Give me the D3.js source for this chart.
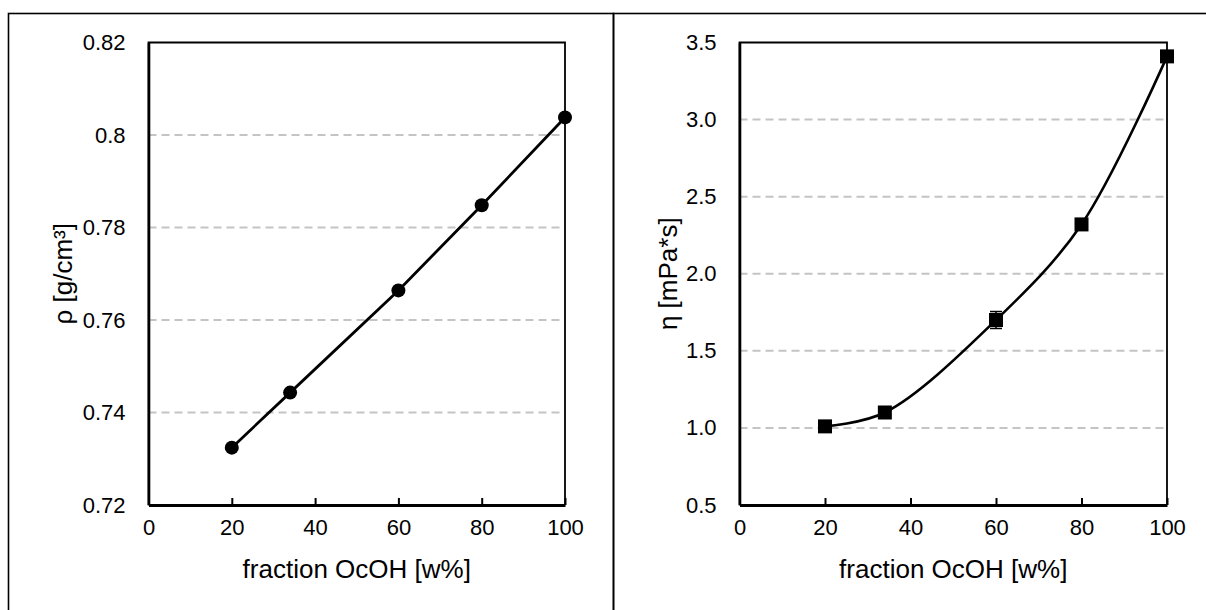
<!DOCTYPE html>
<html>
<head>
<meta charset="utf-8">
<script src="https://cdn.jsdelivr.net/npm/d3@7"></script>
<style>
  html, body { margin: 0; padding: 0; background: #fff; }
  svg { display: block; font-family: "Liberation Sans", Arial, sans-serif; }
</style>
</head>
<body>
<svg id="chart" width="1206" height="610"></svg>
<script>
// Composition fraction of OcOH (weight %)
const fraction = [20, 34, 60, 80, 100];
// Density ρ in g/cm³
const density = [0.7324, 0.7443, 0.7664, 0.7848, 0.8038];
// Dynamic viscosity η in mPa*s
const viscosity = [1.01, 1.10, 1.70, 2.32, 3.41];
// Standard deviation of viscosity measurement
const viscosityErr = [0.01, 0.01, 0.055, 0.02, 0.02];

const xTicks = [0, 20, 40, 60, 80, 100];
const densityTicks = [0.72, 0.74, 0.76, 0.78, 0.80, 0.82];
const viscosityTicks = [0.5, 1.0, 1.5, 2.0, 2.5, 3.0, 3.5];

const xTitle = "fraction OcOH [w%]";
const densityTitle = "ρ [g/cm³]";
const viscosityTitle = "η  [mPa*s]";

const svg = d3.select("#chart");

// outer panel frames
const frame = svg.append("g").attr("fill", "none").attr("stroke", "#000").attr("stroke-width", 1.6);
frame.append("rect").attr("x", 8.5).attr("y", 13.5).attr("width", 605).attr("height", 620);
frame.append("rect").attr("x", 613.5).attr("y", 13.5).attr("width", 620).attr("height", 620);

function panel(opt) {
  const x = d3.scaleLinear().domain([0, 100]).range([opt.left, opt.right]);
  const y = d3.scaleLinear().domain(opt.yDomain).range([505, 42.5]);
  const g = svg.append("g");

  // dashed horizontal gridlines (inner ticks only)
  g.append("g").selectAll("line")
    .data(opt.yTicks.slice(1, -1))
    .join("line")
    .attr("x1", x(0)).attr("x2", x(100))
    .attr("y1", d => y(d)).attr("y2", d => y(d))
    .attr("stroke", "#c4c4c4").attr("stroke-width", 2)
    .attr("stroke-dasharray", "8,5");

  // plot-area border
  g.append("path")
    .attr("d", `M${x(0)},${y(opt.yDomain[0])}V${y(opt.yDomain[1])}H${x(100)}V${y(opt.yDomain[0])}`)
    .attr("fill", "none").attr("stroke", "#000").attr("stroke-width", 1.8);

  // x axis with inward ticks
  const xAxis = d3.axisBottom(x).tickValues(xTicks).tickSizeInner(-7).tickSizeOuter(0).tickPadding(14);
  const xg = g.append("g").attr("transform", `translate(0,${y(opt.yDomain[0])})`).call(xAxis);
  xg.select(".domain").attr("stroke", "#000").attr("stroke-width", 2.8);
  xg.selectAll(".tick line").attr("stroke", "#000").attr("stroke-width", 2);
  xg.selectAll(".tick text").attr("font-size", 22).attr("fill", "#000").attr("dy", "0.71em");

  // y axis labels
  const yAxis = d3.axisLeft(y).tickValues(opt.yTicks).tickSize(0).tickPadding(23).tickFormat(opt.fmt);
  const yg = g.append("g").attr("transform", `translate(${x(0)},0)`).call(yAxis);
  yg.select(".domain").attr("stroke", "#000").attr("stroke-width", 2.6);
  yg.selectAll(".tick text").attr("font-size", 22).attr("fill", "#000");

  // axis titles
  g.append("text")
    .attr("x", (x(0) + x(100)) / 2).attr("y", 578)
    .attr("text-anchor", "middle").attr("font-size", 26).attr("fill", "#000")
    .text(xTitle);
  g.append("text")
    .attr("transform", `translate(${opt.titleX},${(y(opt.yDomain[0]) + y(opt.yDomain[1])) / 2}) rotate(-90)`)
    .attr("text-anchor", "middle").attr("font-size", 26).attr("fill", "#000")
    .text(opt.title);

  return { x, y, g };
}

// ---- left: density ----
const L = panel({
  left: 148.5, right: 565,
  yDomain: [0.72, 0.82], yTicks: densityTicks,
  fmt: d => String(+d.toFixed(2)),
  title: densityTitle, titleX: 72
});
const densPts = fraction.map((f, i) => [f, density[i]]);
L.g.append("path")
  .attr("d", d3.line().x(d => L.x(d[0])).y(d => L.y(d[1]))(densPts))
  .attr("fill", "none").attr("stroke", "#000").attr("stroke-width", 2.8);
L.g.append("g").selectAll("circle")
  .data(densPts).join("circle")
  .attr("cx", d => L.x(d[0])).attr("cy", d => L.y(d[1]))
  .attr("r", 7).attr("fill", "#000");

// ---- right: viscosity ----
const R = panel({
  left: 739.5, right: 1167,
  yDomain: [0.5, 3.5], yTicks: viscosityTicks,
  fmt: d3.format(".1f"),
  title: viscosityTitle, titleX: 677
});
const viscPts = fraction.map((f, i) => [f, viscosity[i], viscosityErr[i]]);
R.g.append("path")
  .attr("d", d3.line().curve(d3.curveCatmullRom.alpha(0.5)).x(d => R.x(d[0])).y(d => R.y(d[1]))(viscPts))
  .attr("fill", "none").attr("stroke", "#000").attr("stroke-width", 2.6);
// error bars
const eb = R.g.append("g").attr("stroke", "#000").attr("stroke-width", 1.5);
viscPts.forEach(d => {
  const cx = R.x(d[0]);
  eb.append("line").attr("x1", cx).attr("x2", cx).attr("y1", R.y(d[1] - d[2])).attr("y2", R.y(d[1] + d[2]));
  eb.append("line").attr("x1", cx - 6).attr("x2", cx + 6).attr("y1", R.y(d[1] + d[2])).attr("y2", R.y(d[1] + d[2]));
  eb.append("line").attr("x1", cx - 6).attr("x2", cx + 6).attr("y1", R.y(d[1] - d[2])).attr("y2", R.y(d[1] - d[2]));
});
R.g.append("g").selectAll("rect")
  .data(viscPts).join("rect")
  .attr("x", d => R.x(d[0]) - 7).attr("y", d => R.y(d[1]) - 7)
  .attr("width", 14).attr("height", 14).attr("fill", "#000");
</script>
</body>
</html>
